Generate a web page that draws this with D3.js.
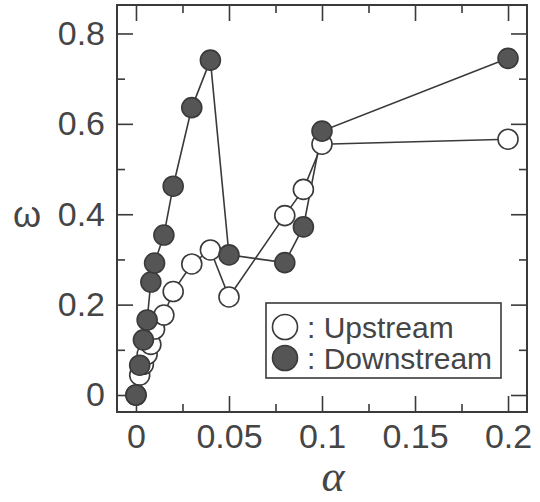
<!DOCTYPE html>
<html>
<head>
<meta charset="utf-8">
<script src="https://cdn.jsdelivr.net/npm/d3@7"></script>
<style>
  body { margin: 0; background: #fff; }
  svg { display: block; }
</style>
</head>
<body>
<svg id="chart" width="540" height="502"></svg>
<script>
// ── Data ──
const alphaVals = [0, 0.002, 0.004, 0.006, 0.008, 0.01, 0.015, 0.02, 0.03, 0.04, 0.05, 0.08, 0.09, 0.1, 0.2];
const upstream   = [0, 0.044, 0.068, 0.09, 0.112, 0.146, 0.177, 0.229, 0.29, 0.321, 0.217, 0.397, 0.455, 0.555, 0.566];
const downstream = [0, 0.066, 0.122, 0.166, 0.25, 0.292, 0.354, 0.462, 0.636, 0.741, 0.31, 0.293, 0.372, 0.584, 0.745];

const xMajor = [0, 0.05, 0.1, 0.15, 0.2];
const xMinor = [0.025, 0.075, 0.125, 0.175];
const yMajor = [0, 0.2, 0.4, 0.6, 0.8];
const yMinor = [0.1, 0.3, 0.5, 0.7];

const legendLabels = [': Upstream', ': Downstream'];

const INK  = '#3a3a3a';
const FILL = '#555555';
const TEXT = '#454545';

const svg = d3.select('#chart');

const x = d3.scaleLinear().domain([-0.0102, 0.2102]).range([117, 527]);
const y = d3.scaleLinear().domain([-0.0376, 0.863]).range([412, 5]);

const [x0, x1] = x.range();
const [y0, y1] = y.range();

function styleAxis(g) {
    g.select('.domain').remove();
    g.selectAll('line').attr('stroke', INK).attr('stroke-width', 1.6);
    g.selectAll('text')
        .attr('fill', TEXT)
        .attr('font-family', 'Liberation Sans, Arial, sans-serif')
        .attr('font-size', 34);
}

// ── Ticks on all four sides, pointing inward ──
svg.append('g').attr('transform', `translate(0,${y0})`)
    .call(d3.axisBottom(x).tickValues(xMajor).tickSize(-16).tickPadding(12).tickFormat(d => String(d)))
    .call(styleAxis);
svg.append('g').attr('transform', `translate(0,${y0})`)
    .call(d3.axisBottom(x).tickValues(xMinor).tickSize(-8).tickFormat(''))
    .call(styleAxis);
svg.append('g').attr('transform', `translate(0,${y1})`)
    .call(d3.axisTop(x).tickValues(xMajor).tickSize(-16).tickFormat(''))
    .call(styleAxis);
svg.append('g').attr('transform', `translate(0,${y1})`)
    .call(d3.axisTop(x).tickValues(xMinor).tickSize(-8).tickFormat(''))
    .call(styleAxis);

svg.append('g').attr('transform', `translate(${x0},0)`)
    .call(d3.axisLeft(y).tickValues(yMajor).tickSize(-16).tickPadding(12).tickFormat(d => String(d)))
    .call(styleAxis);
svg.append('g').attr('transform', `translate(${x0},0)`)
    .call(d3.axisLeft(y).tickValues(yMinor).tickSize(-8).tickFormat(''))
    .call(styleAxis);
svg.append('g').attr('transform', `translate(${x1},0)`)
    .call(d3.axisRight(y).tickValues(yMajor).tickSize(-16).tickFormat(''))
    .call(styleAxis);
svg.append('g').attr('transform', `translate(${x1},0)`)
    .call(d3.axisRight(y).tickValues(yMinor).tickSize(-8).tickFormat(''))
    .call(styleAxis);

// frame
svg.append('rect')
    .attr('x', x0).attr('y', y1)
    .attr('width', x1 - x0).attr('height', y0 - y1)
    .attr('fill', 'none').attr('stroke', INK).attr('stroke-width', 2);

// ── Series ──
const line = d3.line().x(d => x(d[0])).y(d => y(d[1]));
const series = [
    { vals: upstream,   fill: '#fff', r: 10 },
    { vals: downstream, fill: FILL,   r: 10 }
];

series.forEach(s => {
    const pts = alphaVals.map((a, i) => [a, s.vals[i]]);
    svg.append('path')
        .datum(pts)
        .attr('d', line)
        .attr('fill', 'none')
        .attr('stroke', INK)
        .attr('stroke-width', 1.6);
});

series.forEach(s => {
    const pts = alphaVals.map((a, i) => [a, s.vals[i]]);
    svg.append('g')
        .selectAll('circle')
        .data(pts)
        .join('circle')
        .attr('cx', d => x(d[0]))
        .attr('cy', d => y(d[1]))
        .attr('r', s.r)
        .attr('fill', s.fill)
        .attr('stroke', INK)
        .attr('stroke-width', 1.6);
});

// ── Legend ──
const legend = svg.append('g');
legend.append('rect')
    .attr('x', 266).attr('y', 303)
    .attr('width', 235).attr('height', 75)
    .attr('fill', '#fff').attr('stroke', INK).attr('stroke-width', 1.6);

legendLabels.forEach((lab, i) => {
    const cy = 327 + i * 31;
    legend.append('circle')
        .attr('cx', 285).attr('cy', cy).attr('r', 12.5)
        .attr('fill', series[i].fill)
        .attr('stroke', INK).attr('stroke-width', 1.6);
    legend.append('text')
        .attr('x', 307).attr('y', cy + 11)
        .attr('fill', TEXT)
        .attr('font-family', 'Liberation Sans, Arial, sans-serif')
        .attr('font-size', 30)
        .text(lab);
});

// ── Axis titles ──
svg.append('text')
    .attr('x', 27).attr('y', 227)
    .attr('text-anchor', 'middle')
    .attr('fill', TEXT)
    .attr('font-family', 'Liberation Sans, Arial, sans-serif')
    .attr('font-size', 36)
    .text('ω');

svg.append('text')
    .attr('x', 333).attr('y', 491)
    .attr('text-anchor', 'middle')
    .attr('fill', TEXT)
    .attr('font-family', 'Liberation Serif, Times New Roman, serif')
    .attr('font-style', 'italic')
    .attr('font-size', 44)
    .text('α');
</script>
</body>
</html>
